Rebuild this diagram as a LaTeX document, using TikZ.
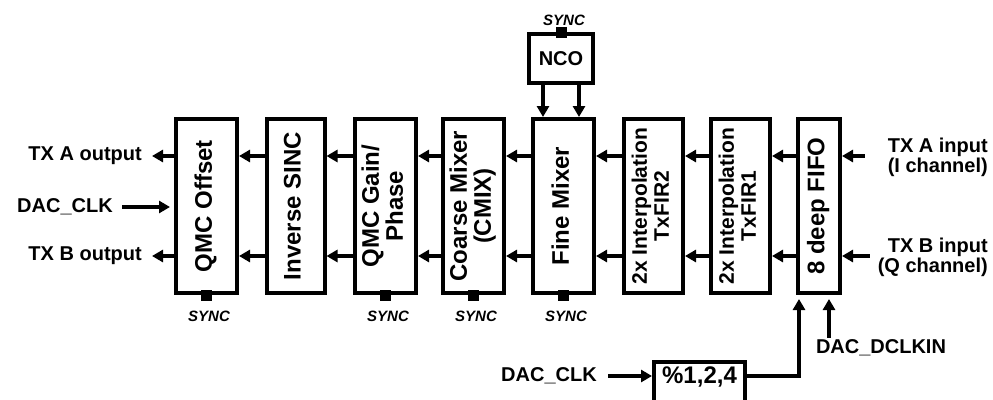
\documentclass[tikz,border=0pt]{standalone}
\usepackage{fontspec}
\setmainfont{Liberation Sans}
\usepackage{tikz}
\usetikzlibrary{arrows.meta,positioning}
\newcommand{\vstack}[1]{\rotatebox{90}{\begin{tabular}{@{}c@{}}#1\end{tabular}}}
\tikzset{
  blk/.style={draw, line width=4pt, minimum height=174pt, minimum width=#1,
    inner sep=0pt, font=\fontsize{24}{22}\selectfont\bfseries},
  blk/.default={61pt},
  sig/.style={-{Triangle[length=11pt,width=12pt]}, line width=3.5pt},
  lbl/.style={font=\fontsize{20}{20}\selectfont\bfseries, inner sep=2pt},
  syncpin/.style={fill, minimum size=11pt, inner sep=0pt},
  synctxt/.style={font=\fontsize{15}{15}\selectfont\bfseries\itshape, inner sep=0pt},
}

\begin{document}
\begin{tikzpicture}[x=1pt,y=-1pt]
  \useasboundingbox (0,0) rectangle (993,399);

  % main chain
  \node[blk] (qoff) at (206.5,206) {\vstack{QMC Offset}};
  \node[blk=58pt, right=25.5pt of qoff] (isinc) {\vstack{Inverse SINC}};
  \node[blk, right=26.5pt of isinc] (qgain) {\vstack{QMC Gain/\\Phase}};
  \node[blk, right=23pt of qgain] (cmix) {\vstack{Coarse Mixer\\(CMIX)}};
  \node[blk, right=25pt of cmix] (fmix) {\vstack{Fine Mixer}};
  \node[blk=59pt, right=26pt of fmix, font=\fontsize{21}{22}\selectfont\bfseries] (fir2) {\vstack{2x Interpolation\\TxFIR2}};
  \node[blk=59pt, right=24pt of fir2, font=\fontsize{21}{22}\selectfont\bfseries] (fir1) {\vstack{2x Interpolation\\TxFIR1}};
  \node[blk=42pt, right=24pt of fir1] (fifo) {\vstack{8 deep FIFO}};

  \node[blk=64pt, minimum height=49pt, above=32pt of fmix, xshift=-2.5pt,
        font=\fontsize{20}{20}\selectfont\bfseries] (nco) {NCO};
  \node[draw, line width=4pt, minimum width=91pt, anchor=north, inner ysep=4pt,
        text height=17pt, text depth=32pt, font=\fontsize{24}{24}\selectfont\bfseries]
        (div) at (699.5,360) {\%1,2,4};

  % sync pins
  \node[syncpin] (sq) at (qoff.south) {};
  \node[syncpin] (sg) at (qgain.south) {};
  \node[syncpin] (sc) at (cmix.south) {};
  \node[syncpin] (sf) at (fmix.south) {};
  \node[syncpin] (sn) at (nco.north) {};
  \foreach \p in {sq,sg,sc,sf}
    \node[synctxt, below=10pt of \p, xshift=2.5pt] (\p-t) {SYNC};
  \node[synctxt, above=0pt of sn, xshift=3pt] (sn-t) {SYNC};

  % labels
  \node[lbl, anchor=east] (txa) at (144,156) {TX A output};
  \node[lbl, anchor=east] (txb) at (144,256) {TX B output};
  \node[lbl, anchor=east] (clk) at (115,207) {DAC\_CLK};
  \node[lbl, anchor=east, align=right] (txai) at (990,157) {TX A input\\(I channel)};
  \node[lbl, anchor=east, align=right] (txbi) at (990,257) {TX B input\\(Q channel)};
  \node[lbl, anchor=east] (clk2) at (599,376) {DAC\_CLK};
  \node[lbl] (dclk) at (881,348) {DAC\_DCLKIN};

  % data path
  \foreach \a/\b in {isinc/qoff,qgain/isinc,cmix/qgain,fmix/cmix,fir2/fmix,fir1/fir2,fifo/fir1} {
    \draw[sig] ([yshift=50pt]\a.west) -- ([yshift=50pt]\b.east);
    \draw[sig] ([yshift=-50pt]\a.west) -- ([yshift=-50pt]\b.east);
  }
  \draw[sig, shorten >=8pt] ([yshift=50pt]qoff.west) -- (txa.east);
  \draw[sig, shorten >=8pt] ([yshift=-50pt]qoff.west) -- (txb.east);
  \draw[sig, shorten <=7pt, shorten >=4pt] (clk.east) -- (clk.east -| qoff.west);
  \draw[sig, shorten <=21pt] (txai.west |- fifo.east) ++(0,-50) -- ([yshift=50pt]fifo.east);
  \draw[sig, shorten <=6pt] (txbi.west |- fifo.east) ++(0,50) -- ([yshift=-50pt]fifo.east);

  % nco
  \draw[sig] ([xshift=-18pt]nco.south) -- ([xshift=-18pt]nco.south |- fmix.north);
  \draw[sig] ([xshift=18pt]nco.south) -- ([xshift=18pt]nco.south |- fmix.north);

  % clocks
  \draw[sig, shorten <=9pt] (clk2.east) -- (clk2.east -| div.west);
  \draw[sig, shorten >=4pt] (div.east |- clk2) -| ([xshift=-20pt]fifo.south);
  \draw[sig, shorten >=4pt] ([xshift=10pt]fifo.south |- dclk.north) -- ([xshift=10pt]fifo.south);
\end{tikzpicture}
\end{document}
